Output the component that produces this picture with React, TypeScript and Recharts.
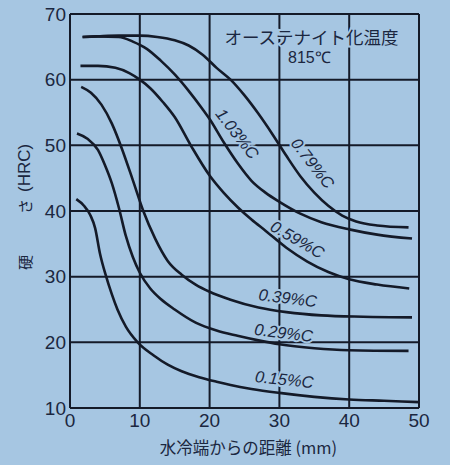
import React from 'react';
import { LineChart, Line, XAxis, YAxis, CartesianGrid, ReferenceDot, Label } from 'recharts';

// ---- data (distance from quenched end, mm) / hardness (HRC) ----
const mm079 = [1.8, 4, 7, 10, 12.5, 15, 17, 19, 21, 23, 25, 27, 29, 31, 33, 35, 37, 39, 41, 44, 48.5];
const hrc079 = [66.5, 66.6, 66.7, 66.7, 66.5, 66.0, 65.2, 63.8, 61.8, 60.0, 57.6, 54.8, 51.7, 48.4, 45.3, 42.8, 40.8, 39.3, 38.4, 37.8, 37.5];

const mm103 = [1.8, 4, 7, 9, 11, 13, 15, 17, 19, 20, 22, 24, 26, 28, 30, 33, 36, 40, 44, 49];
const hrc103 = [66.5, 66.6, 66.5, 65.8, 64.7, 62.9, 60.8, 58.3, 55.5, 54.0, 50.5, 47.3, 44.6, 42.8, 41.4, 39.6, 38.3, 37.2, 36.4, 35.8];

const mm059 = [1.5, 4, 6.5, 8.5, 10, 11.5, 13.3, 15, 17.3, 20, 22, 24.1, 26, 28, 31, 34, 37, 40, 44, 48.6];
const hrc059 = [62.1, 62.1, 61.8, 61.0, 60.0, 58.7, 56.6, 54.3, 50.0, 45.4, 42.8, 40.5, 38.7, 37.0, 34.4, 32.3, 30.7, 29.6, 28.8, 28.2];

const mm039 = [1.6, 3, 4.5, 6, 7.5, 9, 10.5, 12.2, 14, 16, 18, 20, 23, 27, 31, 36, 42, 49];
const hrc039 = [58.9, 58.0, 56.2, 53.3, 49.3, 44.7, 40.0, 35.8, 32.4, 30.3, 28.8, 27.7, 26.5, 25.3, 24.6, 24.1, 23.9, 23.8];

const mm029 = [1, 2.5, 4, 5, 6, 7, 8, 9, 10, 11.5, 13, 15, 18, 21, 24, 27, 30, 35, 40, 48.5];
const hrc029 = [51.8, 51.0, 49.3, 47.0, 44.2, 40.5, 36.2, 33.0, 30.6, 28.2, 26.6, 25.0, 23.0, 21.8, 21.0, 20.3, 19.7, 19.1, 18.8, 18.7];

const mm015 = [0.9, 2, 2.9, 3.6, 4.3, 5.1, 6, 6.8, 8, 9.7, 12, 14, 16, 18.5, 21, 23, 26, 30, 35, 40, 45, 50];
const hrc015 = [41.8, 40.8, 39.4, 37.4, 33.5, 30.3, 27.3, 25.0, 22.4, 20.0, 18.0, 16.6, 15.6, 14.7, 14.0, 13.5, 12.9, 12.3, 11.7, 11.3, 11.1, 10.9];

const xTicks = [0, 10, 20, 30, 40, 50];
const yTicks = [10, 20, 30, 40, 50, 60, 70];

// curve labels: text, x (mm), y (HRC), rotation (deg)
const curveLabels = ['1.03%C', '0.79%C', '0.59%C', '0.39%C', '0.29%C', '0.15%C'];
const curveLabelX = [24.0, 34.8, 32.6, 31.2, 30.6, 30.7];
const curveLabelY = [51.8, 47.3, 35.7, 26.8, 21.5, 14.4];
const curveLabelAngle = [52, 52, 30, 7, 7, 6];

const titleText = 'オーステナイト化温度';
const tempText = '815℃';
const xLabel = '水冷端からの距離 (mm)';

const BG = '#a6c6e2';
const INK = '#141a28';
const TEXT = '#1b2740';
const NUM_FONT = "'Liberation Sans Narrow', 'Liberation Sans', Arial, sans-serif";
const JP_FONT = "'Noto Sans CJK JP', 'Noto Sans', sans-serif";

const toPts = (xs: number[], ys: number[]) => xs.map((x, i) => ({ x, y: ys[i] }));

const series = [
  toPts(mm079, hrc079),
  toPts(mm103, hrc103),
  toPts(mm059, hrc059),
  toPts(mm039, hrc039),
  toPts(mm029, hrc029),
  toPts(mm015, hrc015),
];

const labelShape = (text: string, angle: number) => (p: any) => (
  <text
    x={p.cx}
    y={p.cy}
    transform={`rotate(${angle} ${p.cx} ${p.cy})`}
    textAnchor="middle"
    dominantBaseline="central"
    fontFamily="'Liberation Sans', Arial, sans-serif"
    fontStyle="italic"
    fontSize={16.5}
    fill={TEXT}
    stroke={BG}
    strokeWidth={4}
    paintOrder="stroke"
  >
    {text}
  </text>
);

const plainShape = (text: string, size: number, family: string) => (p: any) => (
  <text
    x={p.cx}
    y={p.cy}
    textAnchor="middle"
    dominantBaseline="central"
    fontFamily={family}
    fontSize={size}
    fill={TEXT}
    stroke={BG}
    strokeWidth={4}
    paintOrder="stroke"
  >
    {text}
  </text>
);

const XLabelContent = (props: any) => {
  const vb = props.viewBox || {};
  const cx = vb.x + vb.width / 2 + 4;
  const y = vb.y + 46;
  return (
    <text x={cx} y={y} textAnchor="middle" fontFamily={JP_FONT} fontSize={16.5} fill={TEXT}>
      {xLabel}
    </text>
  );
};

const YLabelContent = (props: any) => {
  const vb = props.viewBox || {};
  const x = vb.x - 6;
  const y = vb.y + 256;
  return (
    <text
      x={x}
      y={y}
      transform={`rotate(-90 ${x} ${y})`}
      fontFamily={JP_FONT}
      fontSize={15}
      fill={TEXT}
      dominantBaseline="central"
    >
      <tspan x={x}>硬</tspan>
      <tspan x={x + 56}>さ</tspan>
      <tspan x={x + 78} fontFamily={NUM_FONT} fontSize={17}>(HRC)</tspan>
    </text>
  );
};

export default function App() {
  return (
    <div
      style={{
        position: 'absolute',
        left: 0,
        top: 0,
        width: 450,
        height: 465,
        background: BG,
        overflow: 'hidden',
      }}
    >
      <LineChart width={450} height={465} margin={{ top: 14, right: 31, bottom: 12, left: 30 }}>
        <CartesianGrid stroke={INK} strokeWidth={2} />
        <XAxis
          type="number"
          dataKey="x"
          domain={[0, 50]}
          ticks={xTicks}
          allowDataOverflow
          axisLine={false}
          tickLine={false}
          tickSize={0}
          tickMargin={6}
          height={45}
          tick={{ fill: TEXT, fontSize: 19, fontFamily: NUM_FONT }}
        >
          <Label content={XLabelContent} />
        </XAxis>
        <YAxis
          type="number"
          dataKey="y"
          domain={[10, 70]}
          ticks={yTicks}
          allowDataOverflow
          axisLine={false}
          tickLine={false}
          tickSize={0}
          tickMargin={4}
          width={40}
          tick={{ fill: TEXT, fontSize: 19, fontFamily: NUM_FONT }}
        >
          <Label content={YLabelContent} />
        </YAxis>
        {series.map((d, i) => (
          <Line
            key={i}
            data={d}
            dataKey="y"
            type="monotone"
            stroke={INK}
            strokeWidth={2.6}
            dot={false}
            activeDot={false}
            isAnimationActive={false}
          />
        ))}
        {curveLabels.map((t, i) => (
          <ReferenceDot
            key={t}
            x={curveLabelX[i]}
            y={curveLabelY[i]}
            r={0}
            ifOverflow="visible"
            shape={labelShape(t, curveLabelAngle[i])}
          />
        ))}
        <ReferenceDot x={34.6} y={66.5} r={0} ifOverflow="visible" shape={plainShape(titleText, 17.5, JP_FONT)} />
        <ReferenceDot x={34.3} y={63.3} r={0} ifOverflow="visible" shape={plainShape(tempText, 16, NUM_FONT)} />
      </LineChart>
    </div>
  );
}
